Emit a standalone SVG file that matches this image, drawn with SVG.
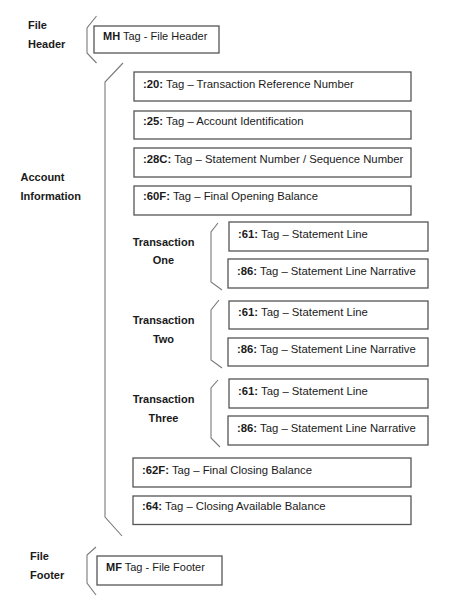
<svg xmlns="http://www.w3.org/2000/svg" width="474" height="612" viewBox="0 0 474 612">
<style>
.box{fill:#fff;stroke:#555;stroke-width:1.3}
.br{fill:none;stroke:#7a7a7a;stroke-width:1.1}
text{font-family:"Liberation Sans",Arial,sans-serif;font-size:11px;fill:#1a1a1a}
text.t{font-size:11.3px}
.lbl{font-weight:bold}
.b{font-weight:bold}
</style>
<rect width="474" height="612" fill="#fff"/>
<g id="connectors">
<polyline class="br" points="96.5,16 87,28 87,53 96.5,63"/>
<polyline class="br" points="123,63 105,82 105,517 122,536"/>
<polyline class="br" points="218,223 211,232 211,282 222,290"/>
<polyline class="br" points="219,300 211,310 211,360 222,368"/>
<polyline class="br" points="218,380 211,388 211,438 220,447"/>
<polyline class="br" points="96,547 87,555 87,583 96,595"/>
</g>
<g id="label-file-header"><text class="lbl" x="28" y="29">File</text><text class="lbl" x="28" y="48">Header</text></g>
<g id="label-account-information"><text class="lbl" x="20.5" y="181">Account</text><text class="lbl" x="20.5" y="200">Information</text></g>
<g id="label-transaction-one"><text class="lbl" x="163.5" y="246" text-anchor="middle">Transaction</text><text class="lbl" x="163.5" y="264" text-anchor="middle">One</text></g>
<g id="label-transaction-two"><text class="lbl" x="163.5" y="324" text-anchor="middle">Transaction</text><text class="lbl" x="163.5" y="343" text-anchor="middle">Two</text></g>
<g id="label-transaction-three"><text class="lbl" x="163.5" y="403" text-anchor="middle">Transaction</text><text class="lbl" x="163.5" y="422" text-anchor="middle">Three</text></g>
<g id="label-file-footer"><text class="lbl" x="30" y="560">File</text><text class="lbl" x="30" y="579">Footer</text></g>
<g id="node-mh"><rect class="box" x="94" y="26" width="125" height="27"/><text x="103" y="39.5"><tspan class="b">MH</tspan> Tag - File Header</text></g>
<g id="node-20"><rect class="box" x="134" y="72" width="277" height="29"/><text class="t" x="143" y="88"><tspan class="b">:20:</tspan> Tag – Transaction Reference Number</text></g>
<g id="node-25"><rect class="box" x="134" y="111" width="277" height="28"/><text class="t" x="143" y="124.5"><tspan class="b">:25:</tspan> Tag – Account Identification</text></g>
<g id="node-28c"><rect class="box" x="134" y="148" width="277" height="29"/><text class="t" x="143" y="162.5"><tspan class="b">:28C:</tspan> Tag – Statement Number / Sequence Number</text></g>
<g id="node-60f"><rect class="box" x="134" y="186" width="277" height="29"/><text class="t" x="143" y="199.5"><tspan class="b">:60F:</tspan> Tag – Final Opening Balance</text></g>
<g id="node-t1-61"><rect class="box" x="229" y="222" width="199" height="29"/><text class="t" x="238" y="237.5"><tspan class="b">:61:</tspan> Tag – Statement Line</text></g>
<g id="node-t1-86"><rect class="box" x="228" y="259" width="200" height="29"/><text class="t" x="237" y="274.5"><tspan class="b">:86:</tspan> Tag – Statement Line Narrative</text></g>
<g id="node-t2-61"><rect class="box" x="229" y="301" width="199" height="28"/><text class="t" x="238" y="316"><tspan class="b">:61:</tspan> Tag – Statement Line</text></g>
<g id="node-t2-86"><rect class="box" x="228" y="338" width="200" height="28"/><text class="t" x="237" y="352.5"><tspan class="b">:86:</tspan> Tag – Statement Line Narrative</text></g>
<g id="node-t3-61"><rect class="box" x="229" y="379" width="199" height="29"/><text class="t" x="238" y="395"><tspan class="b">:61:</tspan> Tag – Statement Line</text></g>
<g id="node-t3-86"><rect class="box" x="228" y="416" width="200" height="29"/><text class="t" x="237" y="431.5"><tspan class="b">:86:</tspan> Tag – Statement Line Narrative</text></g>
<g id="node-62f"><rect class="box" x="133" y="458" width="278" height="29"/><text class="t" x="142" y="473.5"><tspan class="b">:62F:</tspan> Tag – Final Closing Balance</text></g>
<g id="node-64"><rect class="box" x="133" y="496" width="278" height="28.5"/><text class="t" x="142" y="510"><tspan class="b">:64:</tspan> Tag – Closing Available Balance</text></g>
<g id="node-mf"><rect class="box" x="97" y="556" width="125" height="29"/><text x="106" y="571"><tspan class="b">MF</tspan> Tag - File Footer</text></g>
</svg>
